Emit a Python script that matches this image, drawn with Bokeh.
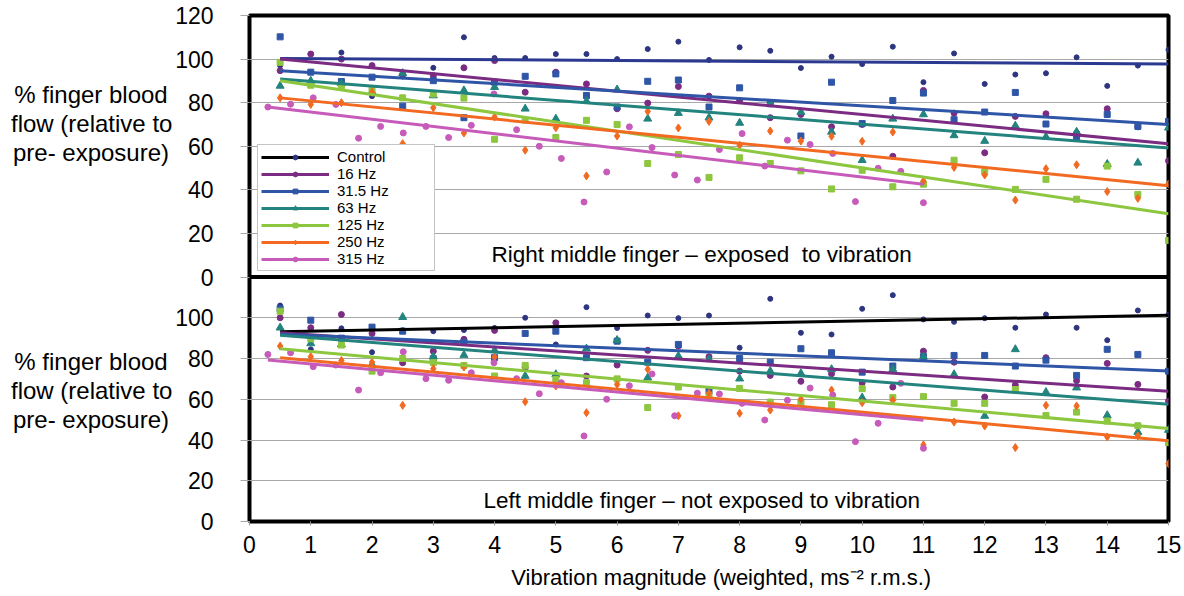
from bokeh.plotting import figure
from bokeh.models import Range1d, FixedTicker, Label, Span, Legend, LegendItem, Div
from bokeh.layouts import row
from bokeh.embed import file_html
from bokeh.resources import INLINE

# ---------------- data ----------------
SERIES = ["Control", "16 Hz", "31.5 Hz", "63 Hz", "125 Hz", "250 Hz", "315 Hz"]

X_HALF = [0.5, 1, 1.5, 2, 2.5, 3, 3.5, 4, 4.5, 5, 5.5, 6, 6.5, 7, 7.5,
          8, 8.5, 9, 9.5, 10, 10.5, 11, 11.5, 12, 12.5, 13, 13.5, 14, 14.5, 15]
X_315 = [0.3, 0.67, 1.04, 1.41, 1.78, 2.14, 2.51, 2.88, 3.25, 3.62, 3.99, 4.36,
         4.73, 5.09, 5.46, 5.83, 6.20, 6.57, 6.94, 7.31, 7.67, 8.04, 8.41, 8.78,
         9.15, 9.52, 9.89, 10.26, 10.63, 11.0]

# Right middle finger (exposed) - top panel
TOP_CONTROL = [97, 94, 103, 83, 92, 96, 110, 100.5, 100.5, 102.3, 102.3, 100, 104.6, 108, 99.6,
               105.4, 103.8, 95.9, 101.1, 97.7, 105.7, 89.4, 102.6, 88.6, 92.9, 93.5, 100.8, 87.7, 97, 104.3]
TOP_16 = [94.7, 102.3, 100, 97, 93, 92.4, 96, 99.3, 84.8, 94, 88.6, 77.2, 79.8, 87.4, 83,
          81, 73.1, 74.6, 68.9, 70, 55.4, 85.6, 75.2, 57, 73.7, 74.9, 66, 77.2, 68.9, 53.3]
TOP_31 = [110.2, 94, 89.7, 91.7, 78.4, 90.1, 73.1, 89.4, 92.1, 93.2, 83.3, 78, 89.8, 90.4, 78,
          86.8, 79.5, 64.7, 89.4, 70.4, 81, 84.4, 72.2, 75.7, 84.7, 70.2, 63.8, 74.6, 69.1, 71.4]
TOP_63 = [87.7, 90, 88.9, 85, 93.5, 83.3, 85.6, 87.1, 77.2, 72.6, 80.7, 86, 72.6, 75.2, 73.1,
          70.7, 79.5, 75.7, 66.6, 53.6, 72.6, 74.6, 65, 62.4, 69.4, 64.3, 66.6, 51.8, 52.4, 68.5]
TOP_125 = [98.5, 88, 87, 85.9, 82.2, 84, 82.1, 63.2, 72, 64, 71.9, 70, 52.1, 56.2, 45.7,
           54.7, 52.1, 48.7, 40.4, 49, 41.4, 42.6, 53.6, 48.3, 40.2, 44.8, 35.7, 50.9, 37.9, 16.8]
TOP_250 = [82.2, 79.2, 80, 84.8, 61.2, 77.7, 66.1, 73.4, 58.2, 68.5, 46.4, 64.7, 76, 68.4, 71.4,
           60.5, 67, 62.4, 64.6, 62.3, 66.5, 44, 50.3, 46.8, 35.3, 49.7, 51.5, 39.2, 36.1, 42.7]
TOP_315 = [78, 79.3, 82.2, 79.2, 63.7, 69.1, 66.1, 69.1, 64, 69.6, 84, 67.6, 60, 54.4, 34.4,
           48.2, 68.9, 59.4, 46.8, 44.5, 58.5, 65.8, 50.9, 62.8, 60.8, 56.7, 34.6, 49.9, 48.5, 34.1]

# Left middle finger (not exposed) - bottom panel
BOT_CONTROL = [106, 84.5, 94.8, 83.1, 93.9, 93.4, 94, 95, 100, 86.9, 105.2, 95, 101.1, 99.8, 101.1,
               85.3, 109.3, 92.6, 91.8, 104.4, 111.1, 99.2, 98, 99.8, 95.1, 101.6, 95.1, 89, 103.6, 101.6]
BOT_16 = [100, 95.1, 101.6, 92.3, 77.9, 83.6, 89.4, 93.8, 75.5, 97.5, 71.4, 76.8, 84, 86.1, 80.9,
          73.8, 71.7, 68.8, 72.5, 68.1, 66, 83.6, 78.2, 61.1, 67, 80.4, 69.1, 77.6, 67.3, 59.1]
BOT_31 = [104.4, 98.8, 90, 95.4, 93.4, 79.9, 88, 80.4, 92.3, 93.4, 80.4, 88.5, 78.2, 86.9, 64,
          80, 78.2, 84.8, 82.8, 73.3, 76.3, 80.9, 81.5, 81.5, 76.3, 79.2, 71.7, 84.5, 82, 73.8]
BOT_63 = [95.1, 87.4, 86.9, 77, 100.3, 80.9, 81.7, 84, 71.4, 72.2, 84.8, 89, 70.6, 81.2, 79.6,
          70.1, 73.8, 72.7, 74.7, 60.8, 74.7, 80.9, 72.2, 51.8, 84.5, 63.5, 65.7, 52.1, 43.9, 44.9]
BOT_125 = [103.2, 89.7, 86.6, 73.8, 80, 78, 76.6, 71.4, 76.6, 69.7, 68.1, 70, 55.9, 66, 61.9,
           65.3, 58.6, 58.3, 57.3, 65.2, 60.8, 61.3, 58, 58, 64.8, 52, 53.7, 49.3, 47, 38.7]
BOT_250 = [86.1, 80.9, 79, 78.2, 57, 75, 75.8, 80.7, 58.8, 66.5, 53.4, 67.3, 74.7, 51.9, 63,
           53.1, 54.7, 60, 64.5, 58.3, 59.5, 37.6, 48.8, 46.9, 36.3, 57, 56.7, 41.5, 42, 28.4]
BOT_315 = [82, 82.8, 76, 76.8, 64.5, 73, 83.3, 70.1, 69.3, 73, 77.9, 70.1, 62.7, 68.1, 42,
           60, 66.6, 72.4, 51.9, 63.0, 62.6, 58, 49.8, 59.5, 65.5, 62.1, 39.2, 48.2, 67.8, 35.9]

# trend lines (start / end values)
TREND_X_START = [0.5, 0.5, 0.5, 0.5, 0.5, 0.5, 0.3]
TREND_X_END = [15, 15, 15, 15, 15, 15, 11]
TOP_TREND_START = [100.3, 100.0, 94.7, 90.9, 90.1, 82.2, 78.0]
TOP_TREND_END = [97.8, 61.2, 70.0, 59.2, 29.0, 41.9, 42.6]
BOT_TREND_START = [93.1, 92.6, 91.9, 91.4, 84.8, 80.4, 79.3]
BOT_TREND_END = [101.2, 63.9, 73.9, 57.5, 45.6, 39.6, 49.7]

Y_TICKS = [0, 20, 40, 60, 80, 100, 120]
X_TICKS = list(range(0, 16))

YTITLE = ["% finger blood", "flow (relative to", "pre- exposure)"]
TOP_CAPTION = "Right middle finger \u2013 exposed \u00a0to vibration"
BOT_CAPTION = "Left middle finger \u2013 not exposed to vibration"
X_TITLE = "Vibration magnitude (weighted, ms\u207b\u00b2 r.m.s.)"

# ---------------- styles ----------------
MARKER_COLORS = ["#2E3580", "#7B2C82", "#2F56A6", "#23837E", "#8DC63F", "#F26A21", "#C65BBA"]
TOP_LINE_COLORS = ["#2B3990", "#7B2C82", "#2F56A6", "#23837E", "#8DC63F", "#F26A21", "#C65BBA"]
BOT_LINE_COLORS = ["#000000", "#7B2C82", "#2F56A6", "#23837E", "#8DC63F", "#F26A21", "#C65BBA"]
MARKERS = ["circle", "circle", "square", "triangle", "square", "diamond", "circle"]
SIZES = [5, 6, 6, 8, 6, 8, 6]
FONT = "Liberation Sans"

# layout geometry (pixels)
W, H = 1184, 596
DIV_W = 172
LEFT, RIGHT, TOP, BOTTOM = 77, 16, 15, 75
FRAME_H = H - TOP - BOTTOM          # 506
JUNCTION = 244.5                    # px above frame bottom where the panels meet
PANEL_SPAN = 120.0

bot_scale = JUNCTION / PANEL_SPAN
top_scale = (FRAME_H - JUNCTION) / PANEL_SPAN


def top_to_default(v):
    return PANEL_SPAN + v * top_scale / bot_scale


y_end = top_to_default(PANEL_SPAN)
top_start = -JUNCTION / top_scale

p = figure(width=W - DIV_W, height=H, x_range=Range1d(0, 15), y_range=Range1d(0, y_end),
           output_backend="svg", toolbar_location=None,
           min_border_left=LEFT, min_border_right=RIGHT,
           min_border_top=TOP, min_border_bottom=BOTTOM, margin=0)
p.extra_y_ranges = {"top": Range1d(top_start, PANEL_SPAN)}
p.background_fill_color = "white"
p.border_fill_color = "white"

# y axis ticks for both panels on one axis
bottom_ticks = [t for t in Y_TICKS if t < PANEL_SPAN]
top_positions = [top_to_default(t) for t in Y_TICKS]
ticks = bottom_ticks + top_positions
overrides = {}
for t in bottom_ticks:
    overrides[t] = str(t)
for t, pos in zip(Y_TICKS, top_positions):
    overrides[pos] = str(t)

yax = p.yaxis[0]
yax.ticker = FixedTicker(ticks=ticks)
yax.major_label_overrides = overrides
yax.axis_line_color = None
yax.major_tick_line_color = "#a8a8a8"
yax.minor_tick_line_color = None
yax.major_tick_in = 0
yax.major_tick_out = 9
yax.major_label_standoff = 27
yax.major_label_text_font = FONT
yax.major_label_text_font_size = "23px"
yax.major_label_text_color = "black"

xax = p.xaxis[0]
xax.ticker = FixedTicker(ticks=X_TICKS)
xax.axis_line_color = None
xax.minor_tick_line_color = None
xax.major_tick_in = 0
xax.major_tick_out = 4
xax.major_tick_line_color = "#999999"
xax.major_label_standoff = 10
xax.major_label_text_font = FONT
xax.major_label_text_font_size = "23px"
xax.major_label_text_color = "black"
xax.axis_label = "\u00a0\u00a0\u00a0\u00a0" + X_TITLE
xax.axis_label_text_font = FONT
xax.axis_label_text_font_size = "22px"
xax.axis_label_text_font_style = "normal"
xax.axis_label_text_color = "black"
xax.axis_label_standoff = 9

p.xgrid.grid_line_color = None
p.ygrid.grid_line_color = "#a8a8a8"
p.ygrid.grid_line_width = 1

p.outline_line_color = "black"
p.outline_line_width = 4
p.outline_line_alpha = 1

top_vals = [TOP_CONTROL, TOP_16, TOP_31, TOP_63, TOP_125, TOP_250, TOP_315]
bot_vals = [BOT_CONTROL, BOT_16, BOT_31, BOT_63, BOT_125, BOT_250, BOT_315]
xs = [X_HALF] * 6 + [X_315]

# markers
bot_scatter = []
for i in range(7):
    p.scatter(xs[i], top_vals[i], marker=MARKERS[i], size=SIZES[i],
              fill_color=MARKER_COLORS[i], line_color=MARKER_COLORS[i], y_range_name="top")
    r = p.scatter(xs[i], bot_vals[i], marker=MARKERS[i], size=SIZES[i],
                  fill_color=MARKER_COLORS[i], line_color=MARKER_COLORS[i])
    bot_scatter.append(r)

# trend lines
bot_lines = []
for i in range(7):
    p.line([TREND_X_START[i], TREND_X_END[i]], [TOP_TREND_START[i], TOP_TREND_END[i]],
           line_color=TOP_LINE_COLORS[i], line_width=3, y_range_name="top")
    r = p.line([TREND_X_START[i], TREND_X_END[i]], [BOT_TREND_START[i], BOT_TREND_END[i]],
               line_color=BOT_LINE_COLORS[i], line_width=3)
    bot_lines.append(r)

# separator between the panels
p.add_layout(Span(location=PANEL_SPAN, dimension="width", line_color="black", line_width=4))

# panel captions
p.add_layout(Label(x=7.38, y=10.3, y_range_name="top", text=TOP_CAPTION,
                   text_font=FONT, text_font_size="22.5px", text_color="black",
                   text_align="center", text_baseline="middle"))
p.add_layout(Label(x=7.38, y=10.1, text=BOT_CAPTION,
                   text_font=FONT, text_font_size="22.5px", text_color="black",
                   text_align="center", text_baseline="middle"))

legend = Legend(items=[LegendItem(label=SERIES[i], renderers=[bot_lines[i], bot_scatter[i]])
                       for i in range(7)],
                location=(8, 250))
legend.label_text_font = FONT
legend.label_text_font_size = "15px"
legend.label_text_color = "black"
legend.glyph_width = 68
legend.glyph_height = 12
legend.label_height = 12
legend.label_standoff = 8
legend.label_width = 94
legend.padding = 3
legend.spacing = 0
legend.margin = 0
legend.border_line_color = "#8c8c8c"
legend.border_line_width = 1
legend.background_fill_color = "white"
legend.background_fill_alpha = 1
p.add_layout(legend)

# y-axis titles (horizontal, three lines per panel) in a side block
block = ('<div style="position:absolute;left:11px;top:{top}px;width:160px;text-align:center;'
         'font-family:\'Liberation Sans\',Arial,sans-serif;font-size:24px;line-height:29px;'
         'white-space:nowrap;color:#000;">{lines}</div>')
title_html = (block.format(top=80, lines="<br>".join(YTITLE)) +
              block.format(top=347, lines="<br>".join(YTITLE)))
side = Div(text=title_html, width=DIV_W, height=H, margin=0,
           styles={"position": "relative", "overflow": "visible"})

layout = row(side, p, spacing=0, margin=0)
open("out.html", "w").write(file_html(layout, INLINE))
